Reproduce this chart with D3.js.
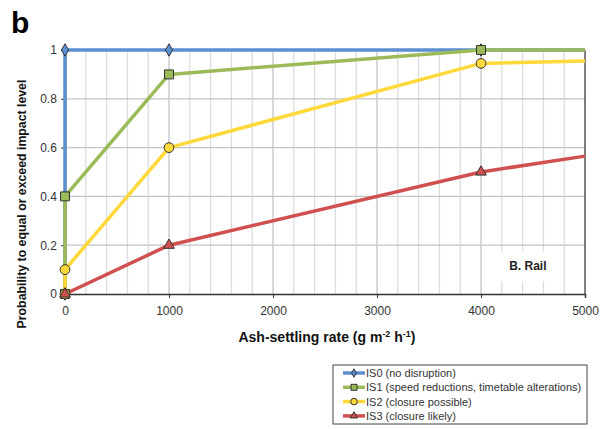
<!DOCTYPE html>
<html>
<head>
<meta charset="utf-8">
<script src="https://cdn.jsdelivr.net/npm/d3@7"></script>
<style>
  body { margin: 0; background: #fff; }
  text { font-family: "Liberation Sans", Arial, sans-serif; }
</style>
</head>
<body>
<div id="chart"></div>
<script>
// series values
var is0X = [0, 0, 1000, 4000, 5000];
var is0Y = [0, 1, 1, 1, 1];
var is1X = [0, 0, 1000, 4000, 5000];
var is1Y = [0, 0.4, 0.9, 1.0, 1.0];
var is2X = [0, 0, 1000, 4000, 5000];
var is2Y = [0, 0.1, 0.6, 0.945, 0.955];
var is3X = [0, 1000, 4000, 5000];
var is3Y = [0, 0.2, 0.5, 0.565];
var xTicks = [0, 1000, 2000, 3000, 4000, 5000];
var yTicks = [0, 0.2, 0.4, 0.6, 0.8, 1];
var seriesNames = ["IS0 (no disruption)", "IS1 (speed reductions, timetable alterations)",
  "IS2 (closure possible)", "IS3 (closure likely)"];

var svgWidth = 604;
var svgHeight = 429;
var margin = { top: 50, right: 19, bottom: 135, left: 65 };
var width = svgWidth - margin.left - margin.right;
var height = svgHeight - margin.top - margin.bottom;

var svg = d3.select("#chart")
  .append("svg")
  .attr("width", svgWidth)
  .attr("height", svgHeight);

var chartGroup = svg.append("g")
  .attr("transform", `translate(${margin.left}, ${margin.top})`);

var xScale = d3.scaleLinear().domain([0, 5000]).range([0, width]);
var yScale = d3.scaleLinear().domain([0, 1]).range([height, 0]);

// minor vertical grid every 200
chartGroup.append("g")
  .selectAll("line")
  .data(d3.range(200, 5000, 200).filter(d => d % 1000 !== 0))
  .enter()
  .append("line")
  .attr("x1", d => xScale(d)).attr("x2", d => xScale(d))
  .attr("y1", 0).attr("y2", height)
  .attr("stroke", "#dcdcdc").attr("stroke-width", 1.3);

// major vertical grid
chartGroup.append("g")
  .selectAll("line")
  .data(xTicks.slice(1, -1))
  .enter()
  .append("line")
  .attr("x1", d => xScale(d)).attr("x2", d => xScale(d))
  .attr("y1", 0).attr("y2", height)
  .attr("stroke", "#c4c4c4").attr("stroke-width", 1.3);

// horizontal grid
chartGroup.append("g")
  .selectAll("line")
  .data(yTicks.slice(1))
  .enter()
  .append("line")
  .attr("x1", 0).attr("x2", width)
  .attr("y1", d => yScale(d)).attr("y2", d => yScale(d))
  .attr("stroke", "#c4c4c4").attr("stroke-width", 1.3);

// axes
var bottomAxis = d3.axisBottom(xScale).tickValues(xTicks).tickSize(4).tickFormat(d3.format("d"));
var leftAxis = d3.axisLeft(yScale).tickValues(yTicks).tickSize(4).tickFormat(d => d);

var xAxis = chartGroup.append("g")
  .attr("transform", `translate(0, ${height})`)
  .call(bottomAxis);
xAxis.select(".domain").attr("stroke", "#333").attr("stroke-width", 1.5);
xAxis.selectAll(".tick line").attr("stroke", "#333");
xAxis.selectAll("text").attr("font-size", 12).attr("fill", "#333").attr("dy", "1.2em");

var yAxis = chartGroup.append("g").call(leftAxis);
yAxis.select(".domain").attr("stroke", "#333").attr("stroke-width", 1.5);
yAxis.selectAll(".tick line").attr("stroke", "#333");
yAxis.selectAll("text").attr("font-size", 12).attr("fill", "#333").attr("dx", "-0.1em");

// right border
chartGroup.append("line")
  .attr("x1", width).attr("x2", width)
  .attr("y1", 0).attr("y2", height)
  .attr("stroke", "#555").attr("stroke-width", 1.5);

// B. Rail label
chartGroup.append("rect")
  .attr("x", xScale(4150)).attr("y", yScale(0.175))
  .attr("width", 64).attr("height", 30)
  .attr("fill", "#fff");
chartGroup.append("text")
  .attr("x", xScale(4450)).attr("y", yScale(0.1))
  .attr("text-anchor", "middle")
  .attr("font-size", 12).attr("font-weight", "bold").attr("fill", "#222")
  .text("B. Rail");

var series = [
  { xs: is0X, ys: is0Y, color: "#5b8fd0", fill: "#5b8fd0", shape: d3.symbolDiamond, size: 45 },
  { xs: is1X, ys: is1Y, color: "#9bbb59", fill: "#9bbb59", shape: d3.symbolSquare, size: 80 },
  { xs: is2X, ys: is2Y, color: "#ffd83a", fill: "#ffd83a", shape: d3.symbolCircle, size: 75 },
  { xs: is3X, ys: is3Y, color: "#d0504f", fill: "#d0504f", shape: d3.symbolTriangle, size: 50 }
];

var line = d3.line()
  .x(d => xScale(d[0]))
  .y(d => yScale(d[1]));

// lines first, then markers
series.forEach(function(s) {
  var pts = s.xs.map((x, i) => [x, s.ys[i]]);
  chartGroup.append("path")
    .datum(pts)
    .attr("d", line)
    .attr("fill", "none")
    .attr("stroke", s.color)
    .attr("stroke-width", 3.5)
    .attr("stroke-linejoin", "round");
});

series.forEach(function(s) {
  var pts = s.xs.map((x, i) => [x, s.ys[i]]).filter(d => d[0] < 5000);
  chartGroup.append("g")
    .selectAll("path")
    .data(pts)
    .enter()
    .append("path")
    .attr("transform", d => `translate(${xScale(d[0])}, ${yScale(d[1])})`)
    .attr("d", d3.symbol().type(s.shape).size(s.size))
    .attr("fill", s.fill)
    .attr("stroke", "#333")
    .attr("stroke-width", 1);
});

// panel letter
svg.append("text")
  .attr("x", 11).attr("y", 33)
  .attr("font-size", 30).attr("font-weight", "bold")
  .text("b");

// axis titles
svg.append("text")
  .attr("transform", "rotate(-90)")
  .attr("x", -204)
  .attr("y", 26)
  .attr("text-anchor", "middle")
  .attr("font-size", 12.3).attr("font-weight", "bold").attr("fill", "#111")
  .text("Probability to equal or exceed impact level");

var xTitle = svg.append("text")
  .attr("x", margin.left + width / 2 + 2)
  .attr("y", 342)
  .attr("text-anchor", "middle")
  .attr("font-size", 14).attr("font-weight", "bold").attr("fill", "#111");
xTitle.append("tspan").text("Ash-settling rate (g m");
xTitle.append("tspan").attr("font-size", 9).attr("dy", -5).text("-2");
xTitle.append("tspan").attr("dy", 5).text(" h");
xTitle.append("tspan").attr("font-size", 9).attr("dy", -5).text("-1");
xTitle.append("tspan").attr("dy", 5).text(")");

// legend
var legend = svg.append("g").attr("transform", "translate(333, 365)");
legend.append("rect")
  .attr("width", 254).attr("height", 59)
  .attr("fill", "#fff").attr("stroke", "#444").attr("stroke-width", 1);

var legendItems = legend.selectAll("g.item")
  .data(series)
  .enter()
  .append("g")
  .attr("class", "item")
  .attr("transform", (d, i) => `translate(0, ${8 + i * 14.3})`);

legendItems.append("line")
  .attr("x1", 10).attr("x2", 32)
  .attr("stroke", d => d.color).attr("stroke-width", 3.5);
legendItems.append("path")
  .attr("transform", "translate(21, 0)")
  .attr("d", d => d3.symbol().type(d.shape).size(d.size * 0.45)())
  .attr("fill", d => d.fill)
  .attr("stroke", "#333").attr("stroke-width", 1);
legendItems.append("text")
  .attr("x", 33).attr("y", 4)
  .attr("font-size", 11).attr("fill", "#333")
  .text((d, i) => seriesNames[i]);
</script>
</body>
</html>
